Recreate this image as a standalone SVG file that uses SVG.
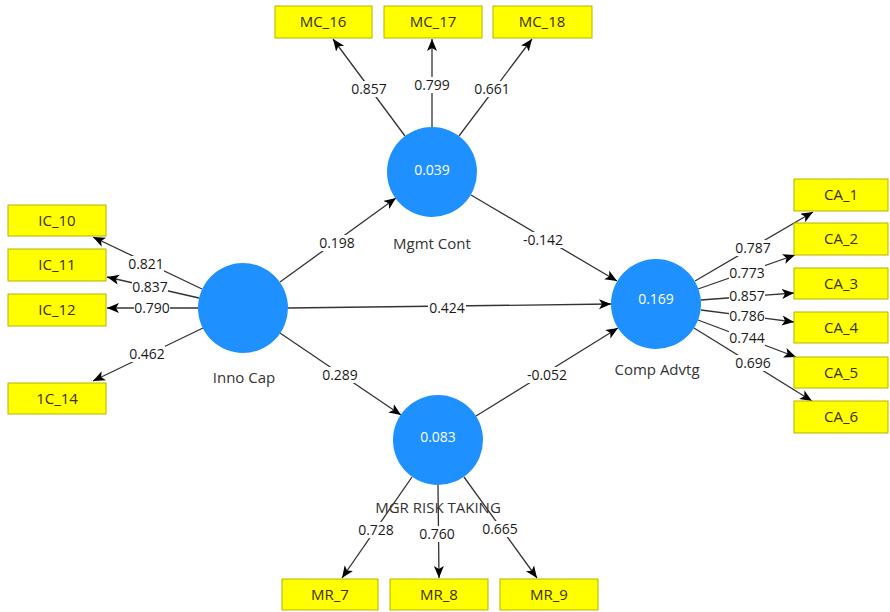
<svg xmlns="http://www.w3.org/2000/svg" width="890" height="612" viewBox="0 0 890 612">
<style>
.ind rect{fill:#ffff00;stroke:#b4b400;stroke-width:1}
.ind text{font-family:"Open Sans","DejaVu Sans",sans-serif;font-size:15px;fill:#3a3000;text-anchor:middle}
.lv circle{fill:#1e90ff}
.lv .val{font-family:"Open Sans","DejaVu Sans",sans-serif;font-size:14px;fill:#ffffff;text-anchor:middle}
.lv .name{font-family:"Open Sans","DejaVu Sans",sans-serif;font-size:15px;fill:#333333;text-anchor:middle}
#connectors line{stroke:#333333;stroke-width:1.3;marker-end:url(#ah)}
.lbl rect{fill:#ffffff}
.lbl text{font-family:"Open Sans","DejaVu Sans",sans-serif;font-size:14px;fill:#1a1a1a;text-anchor:middle}
</style>
<defs>
<marker id="ah" markerUnits="userSpaceOnUse" markerWidth="14" markerHeight="12" refX="12" refY="5" orient="auto">
<path d="M0,0 L12,5 L0,10 L3,5 Z" fill="#000"/>
</marker>
</defs>
<rect width="890" height="612" fill="#ffffff"/>

<g id="connectors">
<line x1="202" y1="289" x2="93" y2="237"/>
<line x1="199" y1="298" x2="107" y2="277"/>
<line x1="198" y1="308" x2="107" y2="308"/>
<line x1="203" y1="328" x2="93" y2="381"/>
<line x1="280" y1="282" x2="396" y2="198"/>
<line x1="288" y1="308" x2="611" y2="304"/>
<line x1="280" y1="333" x2="401" y2="415"/>
<line x1="471" y1="195" x2="617" y2="281"/>
<line x1="476" y1="416" x2="618" y2="328"/>
<line x1="405" y1="136" x2="333" y2="39"/>
<line x1="432" y1="127" x2="432" y2="39"/>
<line x1="459" y1="136" x2="532" y2="39"/>
<line x1="412" y1="477" x2="342" y2="578"/>
<line x1="438" y1="485" x2="439" y2="578"/>
<line x1="464" y1="477" x2="537" y2="578"/>
<line x1="695" y1="281" x2="813" y2="212"/>
<line x1="698" y1="289" x2="795" y2="255"/>
<line x1="701" y1="300" x2="794" y2="293"/>
<line x1="701" y1="310" x2="794" y2="322"/>
<line x1="698" y1="320" x2="796" y2="357"/>
<line x1="694" y1="328" x2="812" y2="401"/>
</g>

<g id="labels" class="lbl">
<rect x="128" y="256" width="36" height="16"/><text x="146" y="269">0.821</text>
<rect x="132" y="279" width="36" height="16"/><text x="150" y="292">0.837</text>
<rect x="134" y="300" width="36" height="16"/><text x="152" y="313">0.790</text>
<rect x="129" y="346" width="36" height="16"/><text x="147" y="359">0.462</text>
<rect x="319" y="235" width="36" height="16"/><text x="337" y="248">0.198</text>
<rect x="428" y="300" width="38" height="16"/><text x="447" y="313">0.424</text>
<rect x="322" y="367" width="36" height="16"/><text x="340" y="380">0.289</text>
<rect x="523" y="232" width="40" height="16"/><text x="543" y="245">-0.142</text>
<rect x="527" y="367" width="40" height="16"/><text x="547" y="380">-0.052</text>
<rect x="351" y="81" width="36" height="16"/><text x="369" y="94">0.857</text>
<rect x="414" y="77" width="36" height="16"/><text x="432" y="90">0.799</text>
<rect x="474" y="81" width="36" height="16"/><text x="492" y="94">0.661</text>
<rect x="358" y="522" width="36" height="16"/><text x="376" y="535">0.728</text>
<rect x="419" y="526" width="36" height="16"/><text x="437" y="539">0.760</text>
<rect x="482" y="521" width="36" height="16"/><text x="500" y="534">0.665</text>
<rect x="735" y="240" width="36" height="16"/><text x="753" y="253">0.787</text>
<rect x="729" y="265" width="36" height="16"/><text x="747" y="278">0.773</text>
<rect x="729" y="288" width="36" height="16"/><text x="747" y="301">0.857</text>
<rect x="729" y="308" width="36" height="16"/><text x="747" y="321">0.786</text>
<rect x="729" y="330" width="36" height="16"/><text x="747" y="343">0.744</text>
<rect x="735" y="355" width="36" height="16"/><text x="753" y="368">0.696</text>
</g>

<g id="inno-cap" class="lv"><circle cx="243" cy="308" r="45"/><text class="name" x="244" y="383">Inno Cap</text></g>
<g id="mgmt-cont" class="lv"><circle cx="432" cy="172" r="45"/><text class="val" x="432" y="175">0.039</text><text class="name" x="432" y="249">Mgmt Cont</text></g>
<g id="comp-advtg" class="lv"><circle cx="656" cy="304" r="45"/><text class="val" x="656" y="304">0.169</text><text class="name" x="657" y="375">Comp Advtg</text></g>
<g id="mgr-risk" class="lv"><circle cx="438" cy="440" r="45"/><text class="val" x="438" y="442">0.083</text><text class="name" x="438" y="513">MGR RISK TAKING</text></g>

<g id="ic10" class="ind"><rect x="8" y="205" width="98" height="31"/><text x="57" y="226">IC_10</text></g>
<g id="ic11" class="ind"><rect x="8" y="249" width="98" height="32"/><text x="57" y="270">IC_11</text></g>
<g id="ic12" class="ind"><rect x="8" y="294" width="98" height="32"/><text x="57" y="315">IC_12</text></g>
<g id="ic14" class="ind"><rect x="8" y="383" width="98" height="31"/><text x="57" y="404">1C_14</text></g>

<g id="mc16" class="ind"><rect x="275" y="6" width="97" height="32"/><text x="323" y="27">MC_16</text></g>
<g id="mc17" class="ind"><rect x="384" y="6" width="98" height="32"/><text x="433" y="27">MC_17</text></g>
<g id="mc18" class="ind"><rect x="493" y="6" width="99" height="32"/><text x="542" y="27">MC_18</text></g>

<g id="ca1" class="ind"><rect x="794" y="179" width="94" height="32"/><text x="841" y="200">CA_1</text></g>
<g id="ca2" class="ind"><rect x="794" y="223" width="94" height="32"/><text x="841" y="244">CA_2</text></g>
<g id="ca3" class="ind"><rect x="794" y="268" width="94" height="31"/><text x="841" y="289">CA_3</text></g>
<g id="ca4" class="ind"><rect x="794" y="312" width="94" height="31"/><text x="841" y="333">CA_4</text></g>
<g id="ca5" class="ind"><rect x="794" y="357" width="94" height="31"/><text x="841" y="378">CA_5</text></g>
<g id="ca6" class="ind"><rect x="794" y="401" width="94" height="32"/><text x="841" y="422">CA_6</text></g>

<g id="mr7" class="ind"><rect x="282" y="579" width="96" height="31"/><text x="330" y="600">MR_7</text></g>
<g id="mr8" class="ind"><rect x="390" y="579" width="98" height="31"/><text x="439" y="600">MR_8</text></g>
<g id="mr9" class="ind"><rect x="500" y="579" width="98" height="31"/><text x="549" y="600">MR_9</text></g>
</svg>
